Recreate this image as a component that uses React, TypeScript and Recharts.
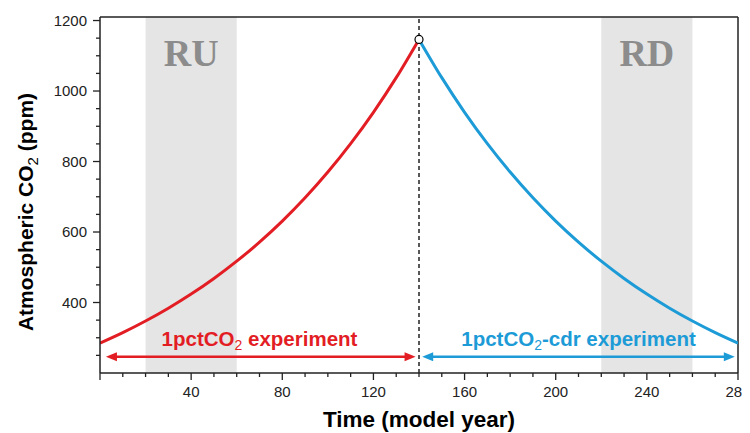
import React from 'react';
import { LineChart, Line, XAxis, YAxis, ReferenceArea, ReferenceLine, ReferenceDot, Label } from 'recharts';

// Model years sampled every 10 years
const yearsUp = [0, 10, 20, 30, 40, 50, 60, 70, 80, 90, 100, 110, 120, 130, 140];
const co2Up = [284.7, 314.5, 347.4, 383.7, 423.9, 468.2, 517.2, 571.3, 631.0, 697.1, 770.0, 850.6, 939.6, 1037.9, 1146.5];
const yearsDown = [140, 150, 160, 170, 180, 190, 200, 210, 220, 230, 240, 250, 260, 270, 280];
const co2Down = [1146.5, 1037.9, 939.6, 850.6, 770.0, 697.1, 631.0, 571.3, 517.2, 468.2, 423.9, 383.7, 347.4, 314.5, 284.7];

const xTicks = [0, 10, 20, 30, 40, 50, 60, 70, 80, 90, 100, 110, 120, 130, 140, 150, 160, 170, 180, 190, 200, 210, 220, 230, 240, 250, 260, 270, 280];
const xLabelled = [40, 80, 120, 160, 200, 240, 280];
const yTicks = [250, 300, 350, 400, 450, 500, 550, 600, 650, 700, 750, 800, 850, 900, 950, 1000, 1050, 1100, 1150, 1200];
const yLabelled = [400, 600, 800, 1000, 1200];

const shadeRU = [20, 60];
const shadeRD = [220, 260];
const peak = { year: 140, co2: 1146.5 };

const RED = '#e31d24';
const BLUE = '#1c9bd7';
const AXIS = '#222';

const data: { year: number; up: number | null; down: number | null }[] = [];
const allYears = Array.from(new Set([...yearsUp, ...yearsDown]));
allYears.forEach((yr) => {
  const iu = yearsUp.indexOf(yr);
  const id = yearsDown.indexOf(yr);
  data.push({ year: yr, up: iu >= 0 ? co2Up[iu] : null, down: id >= 0 ? co2Down[id] : null });
});

const XTick = (props: any) => {
  const { x, y, payload } = props;
  const major = xLabelled.includes(payload.value) || payload.value === 0;
  const len = major ? 7 : 4;
  return (
    <g>
      <line x1={x} y1={y} x2={x} y2={y + len} stroke={AXIS} strokeWidth={1.3} />
      {xLabelled.includes(payload.value) && (
        <text x={x} y={y + 24} textAnchor="middle" fontSize={15} fontFamily="Liberation Sans, Arial, sans-serif" fill="#222">
          {payload.value}
        </text>
      )}
    </g>
  );
};

const YTick = (props: any) => {
  const { x, y, payload } = props;
  const major = yLabelled.includes(payload.value);
  const len = major ? 7 : 4;
  return (
    <g>
      <line x1={x} y1={y} x2={x - len} y2={y} stroke={AXIS} strokeWidth={1.3} />
      {major && (
        <text x={x - 13} y={y + 5} textAnchor="end" fontSize={15} fontFamily="Liberation Sans, Arial, sans-serif" fill="#222">
          {payload.value}
        </text>
      )}
    </g>
  );
};

const makeArrow = (color: string) => (props: any) => {
  const { x1, y1, x2, y2 } = props;
  const head = 11;
  const hw = 4.5;
  return (
    <g>
      <line x1={x1 + head - 1} y1={y1} x2={x2 - head + 1} y2={y2} stroke={color} strokeWidth={2.6} />
      <polygon points={`${x1},${y1} ${x1 + head},${y1 - hw} ${x1 + head},${y1 + hw}`} fill={color} />
      <polygon points={`${x2},${y2} ${x2 - head},${y2 - hw} ${x2 - head},${y2 + hw}`} fill={color} />
    </g>
  );
};

const makeText = (color: string, pre: string, post: string) => (props: any) => {
  const { cx, cy } = props;
  return (
    <text x={cx} y={cy} textAnchor="middle" fontSize={20.5} fontWeight="bold" fontFamily="Liberation Sans, Arial, sans-serif" fill={color}>
      <tspan>{pre}</tspan>
      <tspan dy={4} fontSize={14} fontWeight="normal">2</tspan>
      <tspan dy={-4}>{post}</tspan>
    </text>
  );
};

const makeShadeLabel = (txt: string) => (props: any) => {
  const { cx, cy } = props;
  return (
    <text x={cx} y={cy} textAnchor="middle" fontSize={38} fontWeight="bold" fontFamily="Liberation Serif, Times New Roman, serif" fill="#8c8c8c">
      {txt}
    </text>
  );
};

const XTitle = (props: any) => {
  const { viewBox } = props;
  return (
    <text x={viewBox.x + viewBox.width / 2} y={419} textAnchor="middle" fontSize={22.5} fontWeight="bold" fontFamily="Liberation Sans, Arial, sans-serif" fill="#000">
      Time (model year)
    </text>
  );
};

const YTitle = (props: any) => {
  const cx = 25;
  const cy = 204;
  return (
    <text x={cx} y={cy} transform={`rotate(-90 ${cx} ${cy})`} textAnchor="middle" fontSize={21} fontWeight="bold" fontFamily="Liberation Sans, Arial, sans-serif" fill="#000">
      <tspan>Atmospheric CO</tspan>
      <tspan dy={5} fontSize={15} fontWeight="normal">2</tspan>
      <tspan dy={-5}> (ppm)</tspan>
    </text>
  );
};

export default function App() {
  return (
    <LineChart width={750} height={425} data={data} margin={{ top: 9, right: 20, bottom: 30, left: 0 }}>
      <ReferenceArea x1={shadeRU[0]} x2={shadeRU[1]} y1={200} y2={1210} fill="#e5e5e5" fillOpacity={1} stroke="none" />
      <ReferenceArea x1={shadeRD[0]} x2={shadeRD[1]} y1={200} y2={1210} fill="#e5e5e5" fillOpacity={1} stroke="none" />
      <XAxis
        dataKey="year"
        type="number"
        domain={[0, 280]}
        ticks={xTicks}
        interval={0}
        tickSize={0}
        tickMargin={0}
        tick={XTick}
        tickLine={false}
        axisLine={{ stroke: AXIS, strokeWidth: 1.5 }}
        height={30}
        allowDataOverflow
      >
        <Label content={XTitle} />
      </XAxis>
      <YAxis
        type="number"
        domain={[200, 1210]}
        ticks={yTicks}
        interval={0}
        tickSize={0}
        tickMargin={0}
        tick={YTick}
        tickLine={false}
        axisLine={{ stroke: AXIS, strokeWidth: 1.5 }}
        width={92}
        allowDataOverflow
      >
        <Label content={YTitle} />
      </YAxis>
      <ReferenceLine y={1210} stroke={AXIS} strokeWidth={1.5} />
      <ReferenceLine x={280} stroke={AXIS} strokeWidth={1.5} />
      <ReferenceLine x={peak.year} stroke="#000" strokeWidth={1.3} strokeDasharray="4 3" />
      <ReferenceDot x={40} y={1070} r={0} shape={makeShadeLabel('RU')} />
      <ReferenceDot x={240} y={1070} r={0} shape={makeShadeLabel('RD')} />
      <Line type="monotone" dataKey="up" stroke={RED} strokeWidth={3} dot={false} isAnimationActive={false} connectNulls={false} />
      <Line type="monotone" dataKey="down" stroke={BLUE} strokeWidth={3} dot={false} isAnimationActive={false} connectNulls={false} />
      <ReferenceLine segment={[{ x: 2.6, y: 246 }, { x: 138.5, y: 246 }]} shape={makeArrow(RED)} />
      <ReferenceLine segment={[{ x: 141.4, y: 246 }, { x: 278.6, y: 246 }]} shape={makeArrow(BLUE)} />
      <ReferenceDot x={70} y={277} r={0} shape={makeText(RED, '1pctCO', ' experiment')} />
      <ReferenceDot x={210} y={277} r={0} shape={makeText(BLUE, '1pctCO', '-cdr experiment')} />
      <ReferenceDot x={peak.year} y={peak.co2} r={4} fill="#fff" stroke="#000" strokeWidth={1.2} />
    </LineChart>
  );
}
